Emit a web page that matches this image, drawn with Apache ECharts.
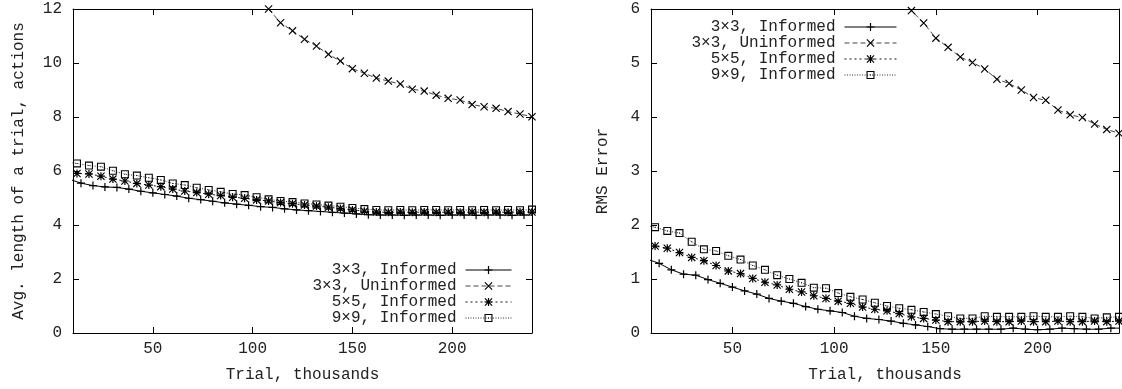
<!DOCTYPE html>
<html>
<head>
<meta charset="utf-8">
<script src="https://cdn.jsdelivr.net/npm/echarts@6/dist/echarts.min.js"></script>
<style>
  html, body { margin: 0; padding: 0; background: #fff; }
  #chart { width: 1122px; height: 389px; }
</style>
</head>
<body>
<div id="chart"></div>
<script>
// series names (same four runs in both panels)
const seriesNames = ['3×3, Informed', '3×3, Uninformed', '5×5, Informed', '9×9, Informed'];
const xTicks = [50, 100, 150, 200];

// trial positions, thousands
const xsA = [6, 12, 18, 24, 30, 36, 42, 48, 54, 60, 66, 72, 78, 84, 90, 96, 102, 108, 114, 120,
  126, 132, 138, 144, 150, 156, 162, 168, 174, 180, 186, 192, 198, 204, 210, 216, 222, 228, 234, 240];
const xsB = [8, 14, 20, 26, 32, 38, 44, 50, 56, 62, 68, 74, 80, 86, 92, 98, 104, 110, 116, 122,
  128, 134, 140, 146, 152, 158, 164, 170, 176, 182, 188, 194, 200, 206, 212, 218, 224, 230, 236, 242];
const xsUninfLeft = [102, 108, 114, 120, 126, 132, 138, 144, 150, 156, 162, 168, 174, 180, 186, 192,
  198, 204, 210, 216, 222, 228, 234, 240];
const xsUninfRight = [132, 138, 144, 150, 156, 162, 168, 174, 180, 186, 192, 198, 204, 210, 216, 222,
  228, 234, 240];

// left panel: average trial length, actions
const lenInf3 = [5.70, 5.55, 5.46, 5.41, 5.39, 5.33, 5.25, 5.19, 5.13, 5.07, 4.99, 4.94, 4.88, 4.82, 4.77,
  4.73, 4.68, 4.65, 4.60, 4.56, 4.53, 4.50, 4.47, 4.44, 4.41, 4.38, 4.37, 4.37, 4.36, 4.37, 4.37, 4.36,
  4.37, 4.37, 4.36, 4.37, 4.37, 4.36, 4.37, 4.37];
const lenUninf3 = [12.38, 12.0, 11.49, 11.19, 10.88, 10.63, 10.32, 10.07, 9.79, 9.62, 9.44, 9.33, 9.22,
  9.03, 8.96, 8.81, 8.69, 8.63, 8.46, 8.38, 8.32, 8.20, 8.11, 8.01];
const lenInf5 = [5.95, 5.91, 5.89, 5.81, 5.70, 5.63, 5.54, 5.48, 5.42, 5.33, 5.26, 5.20, 5.14, 5.09, 5.03,
  4.99, 4.93, 4.89, 4.83, 4.79, 4.74, 4.70, 4.66, 4.61, 4.56, 4.51, 4.48, 4.47, 4.48, 4.47, 4.48, 4.47,
  4.48, 4.47, 4.48, 4.47, 4.48, 4.47, 4.48, 4.48];
const lenInf9 = [6.32, 6.28, 6.20, 6.16, 6.01, 5.88, 5.83, 5.75, 5.67, 5.54, 5.48, 5.38, 5.30, 5.23, 5.15,
  5.11, 5.03, 4.95, 4.89, 4.85, 4.80, 4.76, 4.72, 4.68, 4.63, 4.59, 4.56, 4.55, 4.56, 4.55, 4.56, 4.56,
  4.55, 4.56, 4.55, 4.56, 4.55, 4.56, 4.55, 4.57];

// right panel: RMS error
const rmsInf3 = [1.37, 1.29, 1.17, 1.09, 1.07, 0.99, 0.92, 0.85, 0.78, 0.72, 0.64, 0.59, 0.55, 0.49, 0.44,
  0.41, 0.38, 0.31, 0.27, 0.25, 0.22, 0.18, 0.15, 0.12, 0.08, 0.07, 0.07, 0.07, 0.07, 0.07, 0.09, 0.07,
  0.06, 0.07, 0.09, 0.08, 0.07, 0.07, 0.09, 0.09];
const rmsUninf3 = [6.25, 5.97, 5.74, 5.46, 5.29, 5.11, 5.01, 4.89, 4.70, 4.62, 4.50, 4.36, 4.31, 4.13,
  4.04, 3.99, 3.87, 3.77, 3.70];
const rmsInf5 = [1.63, 1.61, 1.57, 1.49, 1.40, 1.34, 1.25, 1.15, 1.10, 1.01, 0.94, 0.89, 0.81, 0.76, 0.69,
  0.64, 0.59, 0.55, 0.48, 0.44, 0.41, 0.36, 0.30, 0.27, 0.24, 0.21, 0.21, 0.21, 0.22, 0.21, 0.21, 0.22,
  0.21, 0.21, 0.22, 0.21, 0.21, 0.22, 0.21, 0.22];
const rmsInf9 = [2.00, 1.96, 1.89, 1.85, 1.69, 1.55, 1.52, 1.43, 1.36, 1.25, 1.17, 1.07, 1.00, 0.93, 0.84,
  0.83, 0.74, 0.67, 0.62, 0.56, 0.50, 0.46, 0.43, 0.39, 0.35, 0.31, 0.27, 0.27, 0.31, 0.30, 0.30, 0.30,
  0.31, 0.30, 0.30, 0.31, 0.30, 0.27, 0.29, 0.30];

const font = '"Liberation Mono", "Courier New", monospace';
const textColor = '#222';

// gnuplot-like point types
const SYM_PLUS = 'path://M0,3.4H8V4.6H0ZM3.4,0H4.6V8H3.4Z';
const SYM_CROSS = 'path://M0,0.8L0.8,0L8,7.2L7.2,8ZM7.2,0L8,0.8L0.8,8L0,7.2Z';
const SYM_STAR = 'path://M0,3.4H8V4.6H0ZM3.4,0H4.6V8H3.4ZM0,0.8L0.8,0L8,7.2L7.2,8ZM7.2,0L8,0.8L0.8,8L0,7.2Z';
const SYM_BOX = 'path://M0,0H8V8H0ZM1.1,1.1V6.9H6.9V1.1ZM3.5,3.5H4.5V4.5H3.5Z';

const looks = [
  { symbol: SYM_PLUS, color: '#000', type: 'solid' },
  { symbol: SYM_CROSS, color: '#444', type: [5, 3] },
  { symbol: SYM_STAR, color: '#111', type: [2, 3] },
  { symbol: SYM_BOX, color: '#333', type: [1, 1.5] }
];

const pairs = (xs, ys) => ys.map((y, i) => [xs[i], y]);

function xAxisFor(grid, pos) {
  const main = pos === 'bottom';
  return {
    type: 'value', gridIndex: grid, position: pos, min: 10, max: 240,
    axisLine: { show: true, onZero: false, lineStyle: { color: '#000', width: 1 } },
    axisTick: { show: true, inside: true, length: 6, customValues: xTicks, lineStyle: { color: '#000' } },
    axisLabel: { show: main, customValues: xTicks, margin: 8, color: textColor, fontFamily: font, fontSize: 16 },
    splitLine: { show: false },
    name: main ? 'Trial, thousands' : '',
    nameLocation: 'middle', nameGap: 34,
    nameTextStyle: { color: textColor, fontFamily: font, fontSize: 16 }
  };
}

function yAxisFor(grid, pos, max, name, gap) {
  const main = pos === 'left';
  return {
    type: 'value', gridIndex: grid, position: pos, min: 0, max: max, interval: max / 6,
    axisLine: { show: true, onZero: false, lineStyle: { color: '#000', width: 1 } },
    axisTick: { show: true, inside: true, length: 6, lineStyle: { color: '#000' } },
    axisLabel: { show: main, margin: 11, color: textColor, fontFamily: font, fontSize: 16 },
    splitLine: { show: false },
    name: main ? name : '',
    nameLocation: 'middle', nameGap: gap,
    nameTextStyle: { color: textColor, fontFamily: font, fontSize: 16 }
  };
}

function lineSeries(i, xs, ys, axisIdx) {
  return {
    type: 'line', name: seriesNames[i], data: pairs(xs, ys),
    xAxisIndex: axisIdx, yAxisIndex: axisIdx,
    symbol: looks[i].symbol, symbolSize: 8, showSymbol: true, showAllSymbol: true,
    clip: true, silent: true,
    itemStyle: { color: '#000' },
    lineStyle: { color: looks[i].color, width: 1, type: looks[i].type }
  };
}

function legendAt(right, top, itemWidth) {
  return {
    data: seriesNames, orient: 'vertical', align: 'right',
    right: right, top: top, padding: 0,
    itemWidth: itemWidth, itemHeight: 10, itemGap: 0,
    selectedMode: false,
    lineStyle: { width: 1 },
    textStyle: { color: textColor, fontFamily: font, fontSize: 16, lineHeight: 16, padding: [0, 4, 0, 0] }
  };
}

const chart = echarts.init(document.getElementById('chart'));

chart.setOption({
  animation: false,
  backgroundColor: '#fff',
  grid: [
    { left: 73, top: 9, width: 459, height: 324 },
    { left: 651, top: 9, width: 468, height: 324 }
  ],
  xAxis: [
    xAxisFor(0, 'bottom'), xAxisFor(1, 'bottom'),
    xAxisFor(0, 'top'), xAxisFor(1, 'top')
  ],
  yAxis: [
    yAxisFor(0, 'left', 12, 'Avg. length of a trial, actions', 46),
    yAxisFor(1, 'left', 6, 'RMS Error', 40),
    yAxisFor(0, 'right', 12, '', 0),
    yAxisFor(1, 'right', 6, '', 0)
  ],
  legend: [
    legendAt(610, 262, 46),
    legendAt(225, 19, 52)
  ],
  series: [
    lineSeries(0, xsB, lenInf3, 0),
    lineSeries(1, xsUninfLeft, lenUninf3, 0),
    lineSeries(2, xsA, lenInf5, 0),
    lineSeries(3, xsA, lenInf9, 0),
    lineSeries(0, xsB, rmsInf3, 1),
    lineSeries(1, xsUninfRight, rmsUninf3, 1),
    lineSeries(2, xsA, rmsInf5, 1),
    lineSeries(3, xsA, rmsInf9, 1)
  ]
});

window.addEventListener('resize', () => chart.resize());
</script>
</body>
</html>
